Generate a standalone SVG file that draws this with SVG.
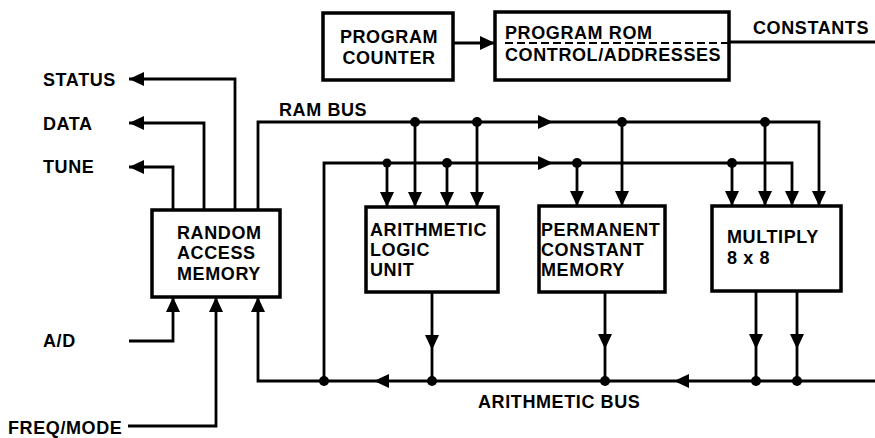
<svg xmlns="http://www.w3.org/2000/svg" xmlns:xlink="http://www.w3.org/1999/xlink" width="875" height="438" viewBox="0 0 875 438">
<style>
.box{fill:#fff;stroke:#000;stroke-width:3.5}
.ln{fill:none;stroke:#000;stroke-width:2.8}
.dash{fill:none;stroke:#000;stroke-width:2;stroke-dasharray:8 4}
.dot{fill:#000}
text{font-family:"Liberation Sans",Arial,Helvetica,sans-serif;font-weight:bold;font-size:18px;fill:#000;letter-spacing:0.6px}
.mid{text-anchor:middle}
</style>
<defs>
<marker id="ah" markerUnits="userSpaceOnUse" markerWidth="16" markerHeight="15" refX="15" refY="7" orient="auto"><path d="M0,0 L15,7 L0,14 Z" fill="#000"/></marker>
<path id="tri" d="M0,0 L-15,-7 L-15,7 Z" fill="#000"/>
</defs>
<rect width="875" height="438" fill="#fff"/>

<g id="connectors">
<path class="ln" d="M235,210 V79 H129" marker-end="url(#ah)"/>
<path class="ln" d="M204,210 V123 H129" marker-end="url(#ah)"/>
<path class="ln" d="M173,210 V167 H129" marker-end="url(#ah)"/>
<path class="ln" d="M258,210 V122 H819 V206" marker-end="url(#ah)"/>
<path class="ln" d="M415,122 V207" marker-end="url(#ah)"/>
<path class="ln" d="M477,122 V207" marker-end="url(#ah)"/>
<path class="ln" d="M622,122 V206" marker-end="url(#ah)"/>
<path class="ln" d="M765,122 V206" marker-end="url(#ah)"/>
<path class="ln" d="M324,381 V163 H792 V206" marker-end="url(#ah)"/>
<path class="ln" d="M387,163 V207" marker-end="url(#ah)"/>
<path class="ln" d="M447,163 V207" marker-end="url(#ah)"/>
<path class="ln" d="M577,163 V206" marker-end="url(#ah)"/>
<path class="ln" d="M732,163 V206" marker-end="url(#ah)"/>
<path class="ln" d="M875,381 H258 V297" marker-end="url(#ah)"/>
<path class="ln" d="M432,292 V381"/>
<path class="ln" d="M605,292 V381"/>
<path class="ln" d="M756,291 V381"/>
<path class="ln" d="M797,291 V381"/>
<path class="ln" d="M129,341 H173 V297" marker-end="url(#ah)"/>
<path class="ln" d="M128,426 H216 V297" marker-end="url(#ah)"/>
<path class="ln" d="M453,43 H495" marker-end="url(#ah)"/>
<path class="ln" d="M729,42 H875"/>
<path class="dash" d="M505,43 H729"/>
<use xlink:href="#tri" transform="translate(553,122)"/>
<use xlink:href="#tri" transform="translate(553,163)"/>
<use xlink:href="#tri" transform="translate(374,381) rotate(180)"/>
<use xlink:href="#tri" transform="translate(674,381) rotate(180)"/>
<use xlink:href="#tri" transform="translate(432,350) rotate(90)"/>
<use xlink:href="#tri" transform="translate(605,349) rotate(90)"/>
<use xlink:href="#tri" transform="translate(756,349) rotate(90)"/>
<use xlink:href="#tri" transform="translate(797,349) rotate(90)"/>
<circle class="dot" cx="415" cy="122" r="5"/>
<circle class="dot" cx="477" cy="122" r="5"/>
<circle class="dot" cx="622" cy="122" r="5"/>
<circle class="dot" cx="765" cy="122" r="5"/>
<circle class="dot" cx="387" cy="163" r="4.5"/>
<circle class="dot" cx="447" cy="163" r="5"/>
<circle class="dot" cx="577" cy="163" r="5"/>
<circle class="dot" cx="732" cy="163" r="5"/>
<circle class="dot" cx="324" cy="381" r="5"/>
<circle class="dot" cx="432" cy="381" r="5"/>
<circle class="dot" cx="605" cy="381" r="5"/>
<circle class="dot" cx="756" cy="381" r="5"/>
<circle class="dot" cx="797" cy="381" r="5"/>
</g>

<g id="labels">
<text x="43" y="86">STATUS</text>
<text x="43" y="130">DATA</text>
<text x="43" y="173">TUNE</text>
<text x="279" y="116">RAM BUS</text>
<text x="753" y="34">CONSTANTS</text>
<text x="43" y="347">A/D</text>
<text x="8" y="434">FREQ/MODE</text>
<text x="478" y="408">ARITHMETIC BUS</text>
</g>

<g id="program-counter">
<rect class="box" x="323" y="13" width="130" height="67"/>
<text class="mid" x="389" y="43">PROGRAM</text>
<text class="mid" x="389" y="64">COUNTER</text>
</g>

<g id="program-rom">
<rect class="box" x="495" y="12" width="234" height="68" style="fill:none"/>
<text x="505" y="39">PROGRAM ROM</text>
<text x="505" y="61">CONTROL/ADDRESSES</text>
</g>

<g id="ram">
<rect class="box" x="152" y="210" width="128" height="87"/>
<text x="177" y="239">RANDOM</text>
<text x="177" y="259">ACCESS</text>
<text x="177" y="280">MEMORY</text>
</g>

<g id="alu">
<rect class="box" x="366" y="207" width="132" height="85"/>
<text x="370" y="236">ARITHMETIC</text>
<text x="370" y="256">LOGIC</text>
<text x="370" y="276">UNIT</text>
</g>

<g id="pcm">
<rect class="box" x="539" y="206" width="126" height="86"/>
<text x="541" y="236">PERMANENT</text>
<text x="541" y="256">CONSTANT</text>
<text x="541" y="276">MEMORY</text>
</g>

<g id="multiply">
<rect class="box" x="712" y="206" width="129" height="85"/>
<text x="727" y="243">MULTIPLY</text>
<text x="727" y="264">8 x 8</text>
</g>
</svg>
